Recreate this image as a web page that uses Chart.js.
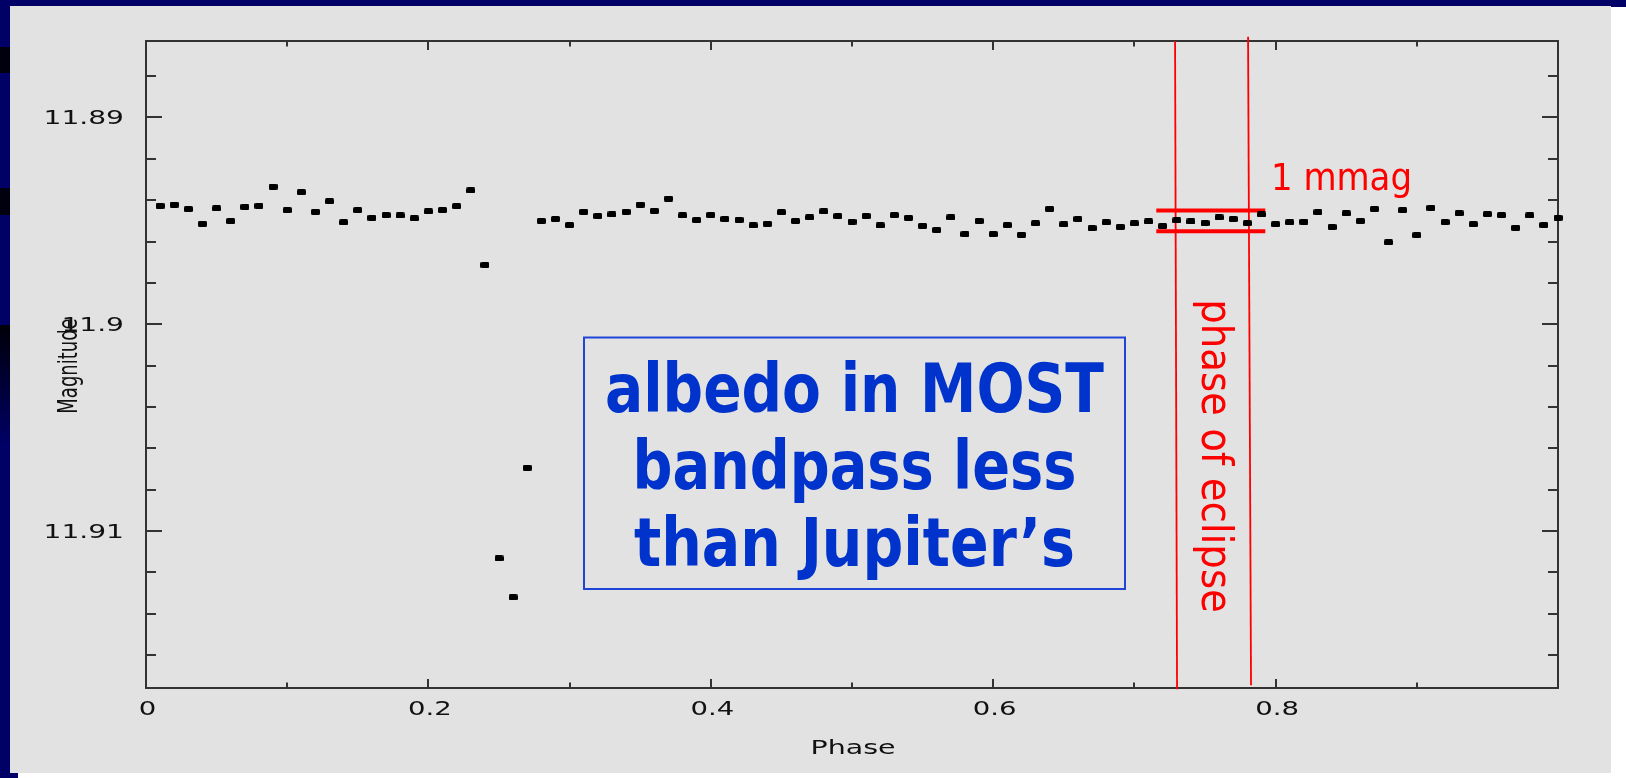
<!DOCTYPE html>
<html>
<head>
<meta charset="utf-8">
<title>Phased light curve</title>
<script src="https://cdn.jsdelivr.net/npm/chart.js@4.4.1/dist/chart.umd.min.js"></script>
<style>
  html, body { margin: 0; padding: 0; background: #000066; overflow: hidden; }
  canvas { display: block; }
</style>
</head>
<body>
<canvas id="lc" width="1626" height="778"></canvas>
<script>
// Orbital phase of each binned point
const phase = [
  0.01, 0.02, 0.03, 0.04, 0.05, 0.06, 0.07, 0.08, 0.09, 0.10,
  0.11, 0.12, 0.13, 0.14, 0.15, 0.16, 0.17, 0.18, 0.19, 0.20,
  0.21, 0.22, 0.23, 0.24, 0.25, 0.26, 0.27, 0.28, 0.29, 0.30,
  0.31, 0.32, 0.33, 0.34, 0.35, 0.36, 0.37, 0.38, 0.39, 0.40,
  0.41, 0.42, 0.43, 0.44, 0.45, 0.46, 0.47, 0.48, 0.49, 0.50,
  0.51, 0.52, 0.53, 0.54, 0.55, 0.56, 0.57, 0.58, 0.59, 0.60,
  0.61, 0.62, 0.63, 0.64, 0.65, 0.66, 0.67, 0.68, 0.69, 0.70,
  0.71, 0.72, 0.73, 0.74, 0.75, 0.76, 0.77, 0.78, 0.79, 0.80,
  0.81, 0.82, 0.83, 0.84, 0.85, 0.86, 0.87, 0.88, 0.89, 0.90,
  0.91, 0.92, 0.93, 0.94, 0.95, 0.96, 0.97, 0.98, 0.99, 1.00
];

// Binned magnitude at each phase
const magnitude = [
  11.89427, 11.89421, 11.89443, 11.89514, 11.89440, 11.89501, 11.89432, 11.89427, 11.89334, 11.89448,
  11.89361, 11.89456, 11.89405, 11.89507, 11.89448, 11.89485, 11.89472, 11.89474, 11.89488, 11.89454,
  11.89447, 11.89429, 11.89353, 11.89713, 11.91133, 11.91321, 11.90694, 11.89500, 11.89491, 11.89520,
  11.89456, 11.89476, 11.89469, 11.89456, 11.89421, 11.89451, 11.89392, 11.89474, 11.89496, 11.89471,
  11.89491, 11.89495, 11.89522, 11.89514, 11.89458, 11.89500, 11.89483, 11.89454, 11.89477, 11.89504,
  11.89476, 11.89522, 11.89472, 11.89485, 11.89524, 11.89544, 11.89483, 11.89564, 11.89500, 11.89564,
  11.89520, 11.89567, 11.89512, 11.89442, 11.89517, 11.89491, 11.89535, 11.89507, 11.89529, 11.89512,
  11.89503, 11.89525, 11.89498, 11.89503, 11.89511, 11.89483, 11.89491, 11.89511, 11.89469, 11.89516,
  11.89507, 11.89504, 11.89458, 11.89529, 11.89464, 11.89500, 11.89442, 11.89604, 11.89448, 11.89569,
  11.89437, 11.89506, 11.89463, 11.89516, 11.89467, 11.89472, 11.89533, 11.89474, 11.89520, 11.89485
];

// Eclipse window edges (phase at top / bottom of the frame) and their magnitude ends
const eclipseLeftPhase = [0.7288, 0.7302];
const eclipseLeftMag = [11.8863, 11.91766];
const eclipseRightPhase = [0.7805, 0.7826];
const eclipseRightMag = [11.88609, 11.91747];

// 1 mmag scale bar
const mmagBarPhase = [0.7155, 0.7927];
const mmagBarMag = [11.8945, 11.8955];

// Axis ticks and labels
const xTicks = [0.1, 0.2, 0.3, 0.4, 0.5, 0.6, 0.7, 0.8, 0.9];
const xMajor = [0.2, 0.4, 0.6, 0.8];
const xTickValues = [0, 0.2, 0.4, 0.6, 0.8];
const xTickLabels = ['0', '0.2', '0.4', '0.6', '0.8'];
const yTicks = [11.888, 11.890, 11.892, 11.894, 11.896, 11.898, 11.900, 11.902,
                11.904, 11.906, 11.908, 11.910, 11.912, 11.914, 11.916];
const yMajor = [11.89, 11.90, 11.91];
const yTickValues = [11.89, 11.90, 11.91];
const yTickLabels = ['11.89', '11.9', '11.91'];

const boxLines = ['albedo in MOST', 'bandpass less', 'than Jupiter\u2019s'];

const W = 1626, H = 778;
const NAVY = '#000066', PANEL = '#e2e2e2', AXIS = '#333333', INK = '#111111';
const RED = '#ff0000', BLUE = '#0033cc';

// small flattened blob used for every data point
function makeDot() {
  const c = document.createElement('canvas');
  c.width = 9; c.height = 6;
  const g = c.getContext('2d');
  g.fillStyle = '#000000';
  g.beginPath();
  if (g.roundRect) g.roundRect(0, 0, 9, 6, 1.5); else g.rect(0, 0, 9, 6);
  g.fill();
  return c;
}

function stretchedText(ctx, text, x, y, align, sx) {
  ctx.save();
  ctx.translate(x, y);
  ctx.scale(sx, 1);
  ctx.textAlign = align;
  ctx.textBaseline = 'alphabetic';
  ctx.fillText(text, 0, 0);
  ctx.restore();
}

const decor = {
  id: 'decor',
  beforeDraw(chart) {
    const ctx = chart.ctx;
    ctx.save();
    ctx.fillStyle = NAVY;
    ctx.fillRect(0, 0, W, H);
    // darker bands along the left slide edge
    ctx.fillStyle = '#00000e';
    ctx.fillRect(0, 47, 10, 26);
    ctx.fillRect(0, 188, 10, 27);
    const g = ctx.createLinearGradient(0, 325, 0, 445);
    g.addColorStop(0, '#000008');
    g.addColorStop(1, NAVY);
    ctx.fillStyle = g;
    ctx.fillRect(0, 325, 10, 120);
    ctx.fillStyle = '#ffffff';
    ctx.fillRect(1611, 7, W - 1611, H - 7);
    ctx.fillRect(18, 773, W - 18, H - 773);
    ctx.fillStyle = PANEL;
    ctx.fillRect(10, 6, 1601, 767);
    ctx.restore();
  },
  beforeDatasetsDraw(chart) {
    const ctx = chart.ctx;
    const a = chart.chartArea;
    const xs = chart.scales.x, ys = chart.scales.y;
    ctx.save();
    ctx.strokeStyle = AXIS;
    ctx.lineWidth = 2;
    ctx.strokeRect(a.left, a.top, a.right - a.left, a.bottom - a.top);
    ctx.beginPath();
    yTicks.forEach(v => {
      const py = Math.round(ys.getPixelForValue(v));
      const major = yMajor.some(m => Math.abs(m - v) < 1e-6);
      const len = major ? 16 : 10;
      ctx.moveTo(a.left, py); ctx.lineTo(a.left + len, py);
      ctx.moveTo(a.right, py); ctx.lineTo(a.right - len, py);
    });
    xTicks.forEach(v => {
      const px = Math.round(xs.getPixelForValue(v));
      const major = xMajor.some(m => Math.abs(m - v) < 1e-6);
      const len = major ? 9 : 5.5;
      ctx.moveTo(px, a.bottom); ctx.lineTo(px, a.bottom - len);
      ctx.moveTo(px, a.top); ctx.lineTo(px, a.top + len);
    });
    ctx.stroke();
    ctx.restore();
  },
  afterDatasetsDraw(chart) {
    const ctx = chart.ctx;
    const a = chart.chartArea;
    const xs = chart.scales.x, ys = chart.scales.y;
    ctx.save();
    // axis tick labels and titles
    ctx.fillStyle = INK;
    ctx.font = '19px "DejaVu Sans"';
    yTickValues.forEach((v, i) => {
      stretchedText(ctx, yTickLabels[i], a.left - 22, ys.getPixelForValue(v) + 7, 'right', 1.48);
    });
    xTickValues.forEach((v, i) => {
      stretchedText(ctx, xTickLabels[i], xs.getPixelForValue(v) + 1.5, a.bottom + 27, 'center', 1.45);
    });
    stretchedText(ctx, 'Phase', (a.left + a.right) / 2 + 1, a.bottom + 66, 'center', 1.5);
    ctx.save();
    ctx.font = '18px "DejaVu Sans"';
    ctx.translate(70, 366);
    ctx.scale(1.5, 1);
    ctx.rotate(-Math.PI / 2);
    ctx.textAlign = 'center';
    ctx.textBaseline = 'middle';
    ctx.fillText('Magnitude', 0, 0);
    ctx.restore();

    // red annotations
    ctx.fillStyle = RED;
    ctx.font = '38px "DejaVu Sans Condensed", "DejaVu Sans"';
    ctx.textAlign = 'left';
    ctx.textBaseline = 'alphabetic';
    ctx.fillText('1 mmag', 1271, 190, 141);
    ctx.save();
    ctx.font = '43px "DejaVu Sans Condensed", "DejaVu Sans"';
    ctx.translate(1202, 456);
    ctx.rotate(Math.PI / 2);
    ctx.textAlign = 'center';
    ctx.fillText('phase of eclipse', 0, 0, 316);
    ctx.restore();

    // boxed note
    ctx.strokeStyle = '#1f44d6';
    ctx.lineWidth = 2;
    ctx.strokeRect(584, 337.5, 541, 251.5);
    ctx.fillStyle = BLUE;
    ctx.font = 'bold 67px "DejaVu Sans Condensed", "DejaVu Sans"';
    ctx.textAlign = 'center';
    const widths = [499, 444, 441];
    const bases = [411.5, 488.5, 565.5];
    boxLines.forEach((t, i) => ctx.fillText(t, 854.5, bases[i], widths[i]));
    ctx.restore();
  }
};

const points = phase.map((p, i) => ({ x: p, y: magnitude[i] }));
const pair = (xa, ya) => xa.map((x, i) => ({ x: x, y: ya[i] }));
const lineSet = (data, width) => ({
  data: data, showLine: true, borderColor: RED, backgroundColor: RED,
  borderWidth: width, pointRadius: 0, clip: false
});

new Chart(document.getElementById('lc'), {
  type: 'scatter',
  data: {
    datasets: [
      { data: points, pointStyle: makeDot(), pointRadius: 4, clip: false,
        backgroundColor: '#000000', borderColor: '#000000' },
      lineSet(pair(eclipseLeftPhase, eclipseLeftMag), 1.8),
      lineSet(pair(eclipseRightPhase, eclipseRightMag), 1.8),
      lineSet(pair(mmagBarPhase, [mmagBarMag[0], mmagBarMag[0]]), 4),
      lineSet(pair(mmagBarPhase, [mmagBarMag[1], mmagBarMag[1]]), 4)
    ]
  },
  options: {
    responsive: false,
    devicePixelRatio: 1,
    animation: false,
    events: [],
    layout: { padding: { left: 146, top: 41, right: 68, bottom: 90 } },
    plugins: { legend: { display: false }, tooltip: { enabled: false } },
    scales: {
      x: { type: 'linear', min: 0, max: 1.0, display: false },
      y: { type: 'linear', min: 11.8863, max: 11.9176, reverse: true, display: false }
    }
  },
  plugins: [decor]
});
</script>
</body>
</html>
